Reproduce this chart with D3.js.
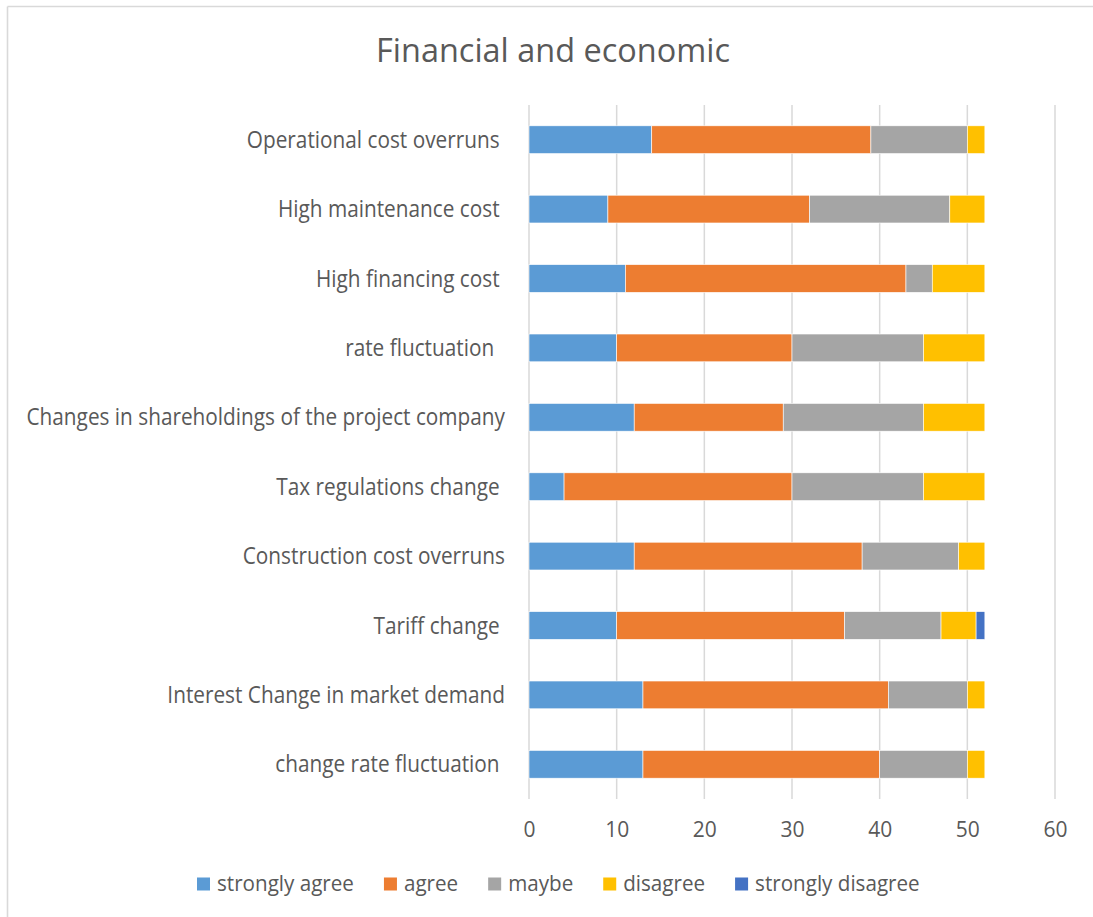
<!DOCTYPE html>
<html>
<head>
<meta charset="utf-8">
<script src="https://cdn.jsdelivr.net/npm/d3@7"></script>
<style>
  html, body { margin: 0; padding: 0; background: #fff; }
  svg text { font-family: "Open Sans", "Noto Sans", sans-serif; fill: #595959; white-space: pre; }
</style>
</head>
<body>
<svg id="chart" width="1093" height="917"></svg>
<script>
// Survey responses per financial / economic risk factor (top to bottom)
const categories = [
  "Operational cost overruns ",
  "High maintenance cost ",
  "High financing cost ",
  "rate fluctuation  ",
  "Changes in shareholdings of the project company",
  "Tax regulations change ",
  "Construction cost overruns",
  "Tariff change ",
  "Interest Change in market demand",
  "change rate fluctuation "
];
const stronglyAgree    = [14,  9, 11, 10, 12,  4, 12, 10, 13, 13];
const agree            = [25, 23, 32, 20, 17, 26, 26, 26, 28, 27];
const maybe            = [11, 16,  3, 15, 16, 15, 11, 11,  9, 10];
const disagree         = [ 2,  4,  6,  7,  7,  7,  3,  4,  2,  2];
const stronglyDisagree = [ 0,  0,  0,  0,  0,  0,  0,  1,  0,  0];

const seriesNames = ["strongly agree", "agree", "maybe", "disagree", "strongly disagree"];
const seriesValues = [stronglyAgree, agree, maybe, disagree, stronglyDisagree];
const seriesColors = ["#5B9BD5", "#ED7D31", "#A5A5A5", "#FFC000", "#4472C4"];
const xTicks = [0, 10, 20, 30, 40, 50, 60];
const chartTitle = "Financial and economic";

const rows = categories.map((c, i) => {
  const r = { category: c };
  seriesNames.forEach((s, j) => { r[s] = seriesValues[j][i]; });
  return r;
});

const svg = d3.select("#chart");

// outer frame (left and top edges)
const frame = svg.append("g").attr("stroke", "#d9d9d9").attr("stroke-width", 1.6).attr("fill", "none");
frame.append("line").attr("x1", 7.5).attr("y1", 6.5).attr("x2", 7.5).attr("y2", 917);
frame.append("line").attr("x1", 7.5).attr("y1", 6.5).attr("x2", 1093).attr("y2", 6.5);

const x = d3.scaleLinear().domain([0, 60]).range([529, 1055]);
const y = d3.scaleBand().domain(categories).range([105, 799]).paddingInner(0.6).paddingOuter(0.3);

// squeeze text horizontally so a reference string spans a given width
function fitScale(sel, sample, size, target) {
  const t = svg.append("text").attr("font-size", size).text(sample);
  const w = t.node().getComputedTextLength();
  t.remove();
  return target / w;
}

// vertical gridlines
svg.append("g").selectAll("line").data(xTicks).join("line")
  .attr("x1", d => x(d)).attr("x2", d => x(d))
  .attr("y1", 105).attr("y2", 799)
  .attr("stroke", "#d9d9d9").attr("stroke-width", 1.5);

// stacked bars
const stack = d3.stack().keys(seriesNames);
const layers = stack(rows);
svg.append("g").selectAll("g").data(layers).join("g")
  .attr("fill", (d, i) => seriesColors[i])
  .selectAll("rect").data(d => d.filter(s => s[1] - s[0] > 0)).join("rect")
  .attr("x", d => x(d[0]))
  .attr("width", d => x(d[1]) - x(d[0]))
  .attr("y", d => y(d.data.category))
  .attr("height", y.bandwidth())
  .attr("stroke", "#ffffff").attr("stroke-width", 0.6);

// category labels
const labelSize = 23;
const kLabel = fitScale(svg, "Changes in shareholdings of the project company", labelSize, 479);
svg.append("g").selectAll("g").data(categories).join("g")
  .attr("transform", d => `translate(505,${y(d) + y.bandwidth() / 2}) scale(${kLabel},1)`)
  .append("text")
  .attr("text-anchor", "end").attr("dy", "0.35em")
  .attr("font-size", labelSize)
  .attr("xml:space", "preserve")
  .text(d => d);

// x axis tick labels
const xAxis = d3.axisBottom(x).tickValues(xTicks).tickSize(0).tickPadding(0);
const axisG = svg.append("g").attr("transform", "translate(0,837)").call(xAxis);
axisG.select(".domain").remove();
axisG.selectAll("text")
  .attr("y", 0).attr("dy", 0)
  .attr("font-size", 21)
  .attr("font-family", "'Open Sans', 'Noto Sans', sans-serif")
  .attr("fill", "#595959");

// title
const titleSize = 32;
const kTitle = fitScale(svg, chartTitle, titleSize, 354);
svg.append("g").attr("transform", `translate(553,62) scale(${kTitle},1)`)
  .append("text").attr("text-anchor", "middle").attr("font-size", titleSize).text(chartTitle);

// legend
const legendSize = 22;
const kLegend = fitScale(svg, "strongly agree", legendSize, 137);
const legend = svg.append("g");
let lx = 197;
seriesNames.forEach((name, i) => {
  legend.append("rect").attr("x", lx).attr("y", 877.5).attr("width", 13).attr("height", 13)
    .attr("fill", seriesColors[i]);
  const g = legend.append("g").attr("transform", `translate(${lx + 20},891) scale(${kLegend},1)`);
  const t = g.append("text").attr("font-size", legendSize).text(name);
  const w = t.node().getComputedTextLength() * kLegend;
  lx += 20 + w + 30;
});
</script>
</body>
</html>
